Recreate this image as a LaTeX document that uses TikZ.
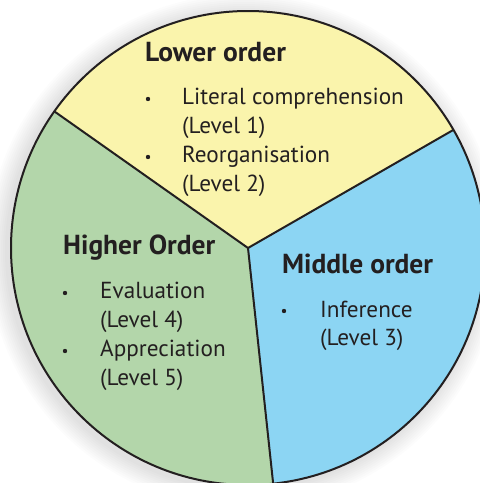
\documentclass[tikz,border=0pt]{standalone}
\usepackage{fontspec}
\usetikzlibrary{calc}
\setmainfont{PT Sans}
\definecolor{yel}{RGB}{250,244,172}
\definecolor{grn}{RGB}{179,214,170}
\definecolor{blu}{RGB}{140,213,243}
\definecolor{ink}{RGB}{35,31,32}
\tikzset{
  head/.style={anchor=base west, inner sep=0pt, font=\fontsize{27.5}{27.5}\selectfont\bfseries, text=ink},
  item/.style={anchor=base west, inner sep=0pt, font=\fontsize{23.2}{23.2}\selectfont, text=ink},
  dot/.style={circle, fill=ink, inner sep=0pt, minimum size=4.4pt},
  rim/.style={draw=ink, line width=2pt},
}
\begin{document}
\begin{tikzpicture}[x=1pt,y=-1pt]
\useasboundingbox (0,0) rectangle (480,483);
\fill[white] (0,0) rectangle (480,483);
\begin{scope}
\clip (0,0) rectangle (480,483);
% soft shadow
\foreach \d in {2,4,...,20} {
  \fill[black, opacity=0.012] (244,251) circle[radius=237+\d];
}
\coordinate (C) at (248,248);
\fill[yel] (C) -- ++(-144.8:237) arc[start angle=-144.8, end angle=-29.9, radius=237] -- cycle;
\fill[blu] (C) -- ++(-29.9:237) arc[start angle=-29.9, end angle=83.9, radius=237] -- cycle;
\fill[grn] (C) -- ++(83.9:237) arc[start angle=83.9, end angle=215.2, radius=237] -- cycle;
\coordinate (A) at ($(C)+(-144.8:237)$);
\coordinate (B) at ($(C)+(-29.9:237)$);
\coordinate (D) at ($(C)+(83.9:237)$);
\draw[rim] (C) circle[radius=237];
\draw[rim] (C) -- (A);
\draw[rim] (C) -- (B);
\draw[rim] (C) -- (D);
\end{scope}
% Lower order
\node[head] (lo) at (145,61) {Lower order};
\node[dot] (b1) at (148,99) {};
\node[item] (t1) at (182,104) {Literal comprehension};
\node[item] (t1b) at (182,133) {(Level 1)};
\node[dot] (b2) at (148,157) {};
\node[item] (t2) at (182,162) {Reorganisation};
\node[item] (t2b) at (182,191) {(Level 2)};
% Higher order
\node[head] (ho) at (63,254) {Higher Order};
\node[dot] (b4) at (65,293) {};
\node[item] (t4) at (100,298) {Evaluation};
\node[item] (t4b) at (100,327) {(Level 4)};
\node[dot] (b5) at (65,351) {};
\node[item] (t5) at (100,356) {Appreciation};
\node[item] (t5b) at (100,385) {(Level 5)};
% Middle order
\node[head] (mo) at (282,273) {Middle order};
\node[dot] (b3) at (284,311) {};
\node[item] (t3) at (320,317) {Inference};
\node[item] (t3b) at (320,345) {(Level 3)};
\end{tikzpicture}
\end{document}
